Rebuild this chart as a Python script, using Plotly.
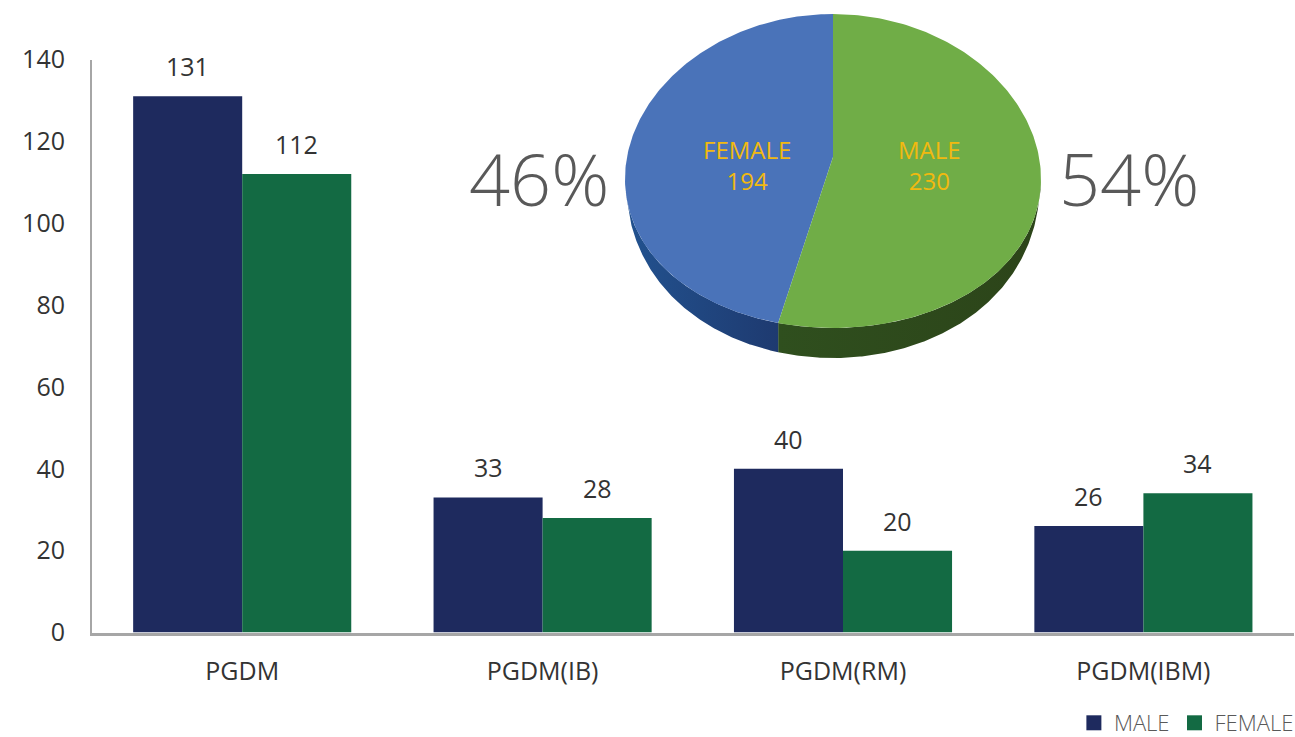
import numpy as np
import plotly.graph_objects as go

categories = ["PGDM", "PGDM(IB)", "PGDM(RM)", "PGDM(IBM)"]
male = [131, 33, 40, 26]
female = [112, 28, 20, 34]
y_ticks = [0, 20, 40, 60, 80, 100, 120, 140]
pie_labels = ["FEMALE", "MALE"]
pie_values = [194, 230]

W, H = 1295, 737
NAVY, DGREEN = "#1e2a5e", "#136a43"
BLUE, GREEN = "#4a73b9", "#70ad47"
GREY = "#595959"
DARK = "#333333"
AXIS = "#a6a6a6"
FONT = "Open Sans, Noto Sans, sans-serif"

# pie geometry (pixel placement in the page)
px_l, px_r, px_top, px_bot_face, depth = 625, 1041, 14, 328, 30
ry = (px_bot_face - px_top) / 2
d = depth / ry
pivot_off = 14 / ry
egg = 0.05

share = pie_values[0] / sum(pie_values)
seam = 2 * np.pi * (1 - share)


def arc(a, b, n=200):
    t = np.linspace(a, b, n)
    return np.sin(t), np.cos(t) - egg * np.sin(t) ** 2, t


fig = go.Figure()
fig.add_bar(name="MALE", x=categories, y=male, marker_color=NAVY, marker_line_width=0, showlegend=False)
fig.add_bar(name="FEMALE", x=categories, y=female, marker_color=DGREEN, marker_line_width=0, showlegend=False)

# side walls of the tilted pie: the wall thins out towards the widest point
for a, b, grad in [
    (np.pi / 2, seam, ("#2f4f1e", "#2c4419")),
    (seam, 3 * np.pi / 2, ("#22528f", "#1e3a70")),
]:
    xs, ys, t = arc(a, b)
    off = d * (np.clip(-np.cos(t) - 0.15, 0, None) / 0.85) ** 0.6
    xp = np.r_[xs, xs[::-1]]
    yp = np.r_[ys, (ys - off)[::-1]]
    fig.add_scatter(
        x=xp, y=yp, xaxis="x2", yaxis="y2", mode="lines", line_width=0, fill="toself",
        fillgradient=dict(type="horizontal", colorscale=[[0, grad[0]], [1, grad[1]]]),
        showlegend=False, hoverinfo="skip",
    )

# top faces
xs, ys, _ = arc(seam, 2 * np.pi)
fig.add_scatter(x=np.r_[xs, 0], y=np.r_[ys, pivot_off], xaxis="x2", yaxis="y2", mode="lines",
                line_width=0, fill="toself", fillcolor=BLUE, showlegend=False, hoverinfo="skip")
xs, ys, _ = arc(0, seam)
fig.add_scatter(x=np.r_[xs, 0], y=np.r_[ys, pivot_off], xaxis="x2", yaxis="y2", mode="lines",
                line_width=0, fill="toself", fillcolor=GREEN, showlegend=False, hoverinfo="skip")

# legend keys with the reference's larger square swatches
for name, col in (("MALE", NAVY), ("FEMALE", DGREEN)):
    fig.add_scatter(x=[None], y=[None], name=name, mode="markers",
                    marker=dict(symbol="square", size=15, color=col))

ann = []
for i, c in enumerate(categories):
    for vals, sh in ((male, -54.5), (female, 54.5)):
        ann.append(dict(x=c, y=vals[i], xref="x", yref="y", text=str(vals[i]), showarrow=False,
                        xshift=sh, yshift=30, font=dict(size=25, color=DARK)))

total = sum(pie_values)
for name, v, xc, xpct in [
    (pie_labels[0], pie_values[0], 747, 539),
    (pie_labels[1], pie_values[1], 929, 1129),
]:
    ann.append(dict(x=xc / W, y=1 - 165 / H, xref="paper", yref="paper", showarrow=False,
                    xanchor="center", yanchor="middle",
                    text=f"{name}<br>{v}", align="center",
                    font=dict(size=24, color="#f2b90f")))
    ann.append(dict(x=xpct / W, y=1 - 178 / H, xref="paper", yref="paper", showarrow=False,
                    xanchor="center", yanchor="middle",
                    text=f"{round(100 * v / total)}%",
                    font=dict(size=72, color=GREY, weight=300)))

fig.update_layout(
    width=W, height=H, margin=dict(l=0, r=0, t=0, b=0, autoexpand=False),
    paper_bgcolor="white", plot_bgcolor="white",
    font=dict(family=FONT, color=DARK),
    barmode="group", bargap=0.274, bargroupgap=0,
    xaxis=dict(domain=[92 / W, 1293.6 / W], showgrid=False, zeroline=False, showline=True,
               linecolor=AXIS, linewidth=3, ticks="", tickfont=dict(size=25, color=DARK),
               ticklabelstandoff=14, anchor="y", fixedrange=True),
    yaxis=dict(domain=[1 - 632.5 / H, 1 - 59.5 / H], range=[0, 140], tickvals=y_ticks,
               showgrid=False, zeroline=False, showline=True, linecolor=AXIS, linewidth=2,
               ticks="", tickfont=dict(size=25, color=DARK), ticklabelstandoff=20, anchor="x",
               fixedrange=True),
    xaxis2=dict(domain=[px_l / W, px_r / W], range=[-1, 1], visible=False, anchor="y2", fixedrange=True),
    yaxis2=dict(domain=[1 - (px_bot_face + depth) / H, 1 - px_top / H], range=[-1 - d, 1],
                visible=False, anchor="x2", fixedrange=True),
    legend=dict(orientation="h", x=1.003, xanchor="right", y=1 - 723 / H, yanchor="middle",
                font=dict(size=22, color=GREY, weight=300), bgcolor="rgba(0,0,0,0)",
                itemwidth=30, traceorder="normal"),
    annotations=ann,
    showlegend=True,
)
fig.write_html("out.html", config={"displayModeBar": False},
               post_script="document.body.style.margin='0';")
